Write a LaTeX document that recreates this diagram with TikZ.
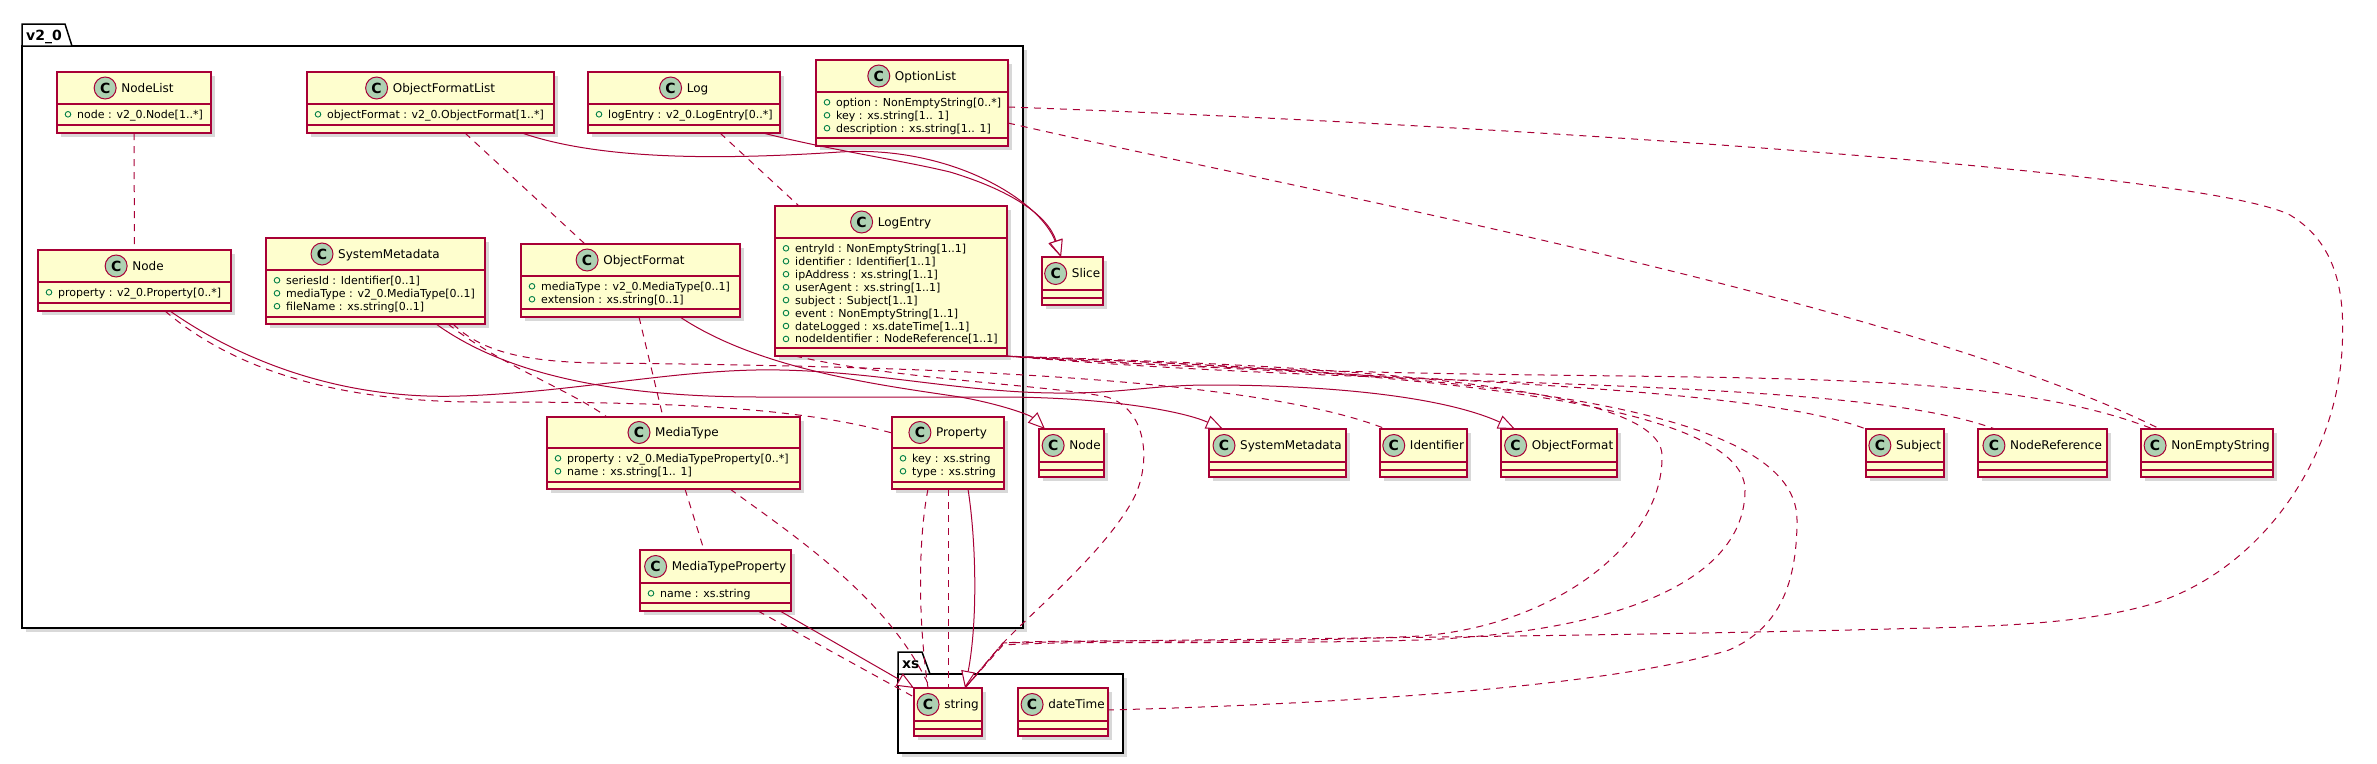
\documentclass[tikz,border=0pt]{standalone}
\usepackage{fontspec}
\setmainfont{DejaVu Sans}
\usetikzlibrary{arrows.meta,shadows}
\definecolor{pred}{HTML}{A80036}
\definecolor{cfill}{HTML}{FEFECE}
\definecolor{bgreen}{HTML}{ADD1B2}
\definecolor{vgreen}{HTML}{038048}
\tikzset{
  cbox/.style={draw=pred, fill=cfill, line width=1.5pt, inner sep=0pt, outer sep=0pt, rectangle,
    drop shadow={shadow xshift=4pt, shadow yshift=-4pt, fill=black!30, opacity=0.5}},
  cline/.style={draw=pred, line width=1.5pt},
  cname/.style={inner sep=0pt, font=\fontsize{12}{14}\selectfont, text height=8.8pt, text depth=0pt},
  badge/.style={circle, draw=pred, fill=bgreen, line width=1pt, minimum size=22pt, inner sep=0pt,
    font=\bfseries\fontsize{14}{14}\selectfont},
  attr/.style={inner sep=0pt, anchor=west, font=\fontsize{11}{13}\selectfont, text height=8pt, text depth=0pt},
  vis/.style={draw=vgreen, line width=0.9pt},
  dep/.style={draw=pred, line width=1pt, dash pattern=on 7pt off 6pt},
  ext/.style={draw=pred, line width=1pt, -{Triangle[fill=white, length=17pt, width=14pt]}},
  pkg/.style={draw=black, line width=1.5pt, fill=white},
  pkgname/.style={inner sep=0pt, anchor=base west, font=\bfseries\fontsize{14}{14}\selectfont},
}
% id, x1, y1, x2, y2, header bottom, methods top, name, attributes
\newcommand\umlclass[9]{%
  \node[cbox, minimum width={#4-#2}, minimum height={#5-#3}] (#1) at ({(#2+#4)/2},{(#3+#5)/2}) {};
  \draw[cline] (#2,#6) -- (#4,#6);
  \draw[cline] (#2,#7) -- (#4,#7);
  \node[cname] (#1-h) at ({(#2+#4)/2},{(#3+#6)/2}) {\hspace*{27pt}#8};
  \node[badge] (#1-b) at ([xshift=11pt]#1-h.west) {C};
  \foreach \a [count=\i from 0] in {#9} {
    \draw[vis] ({#2+11},{#6+10.3+12.95*\i}) circle (2.8pt);
    \node[attr] (#1-a\i) at ({#2+20},{#6+10.3+12.95*\i}) {\a};
  }%
}
% id, x1, y1, x2, name
\newcommand\umlsmall[5]{%
  \node[cbox, minimum width={#4-#2}, minimum height=48] (#1) at ({(#2+#4)/2},{#3+24}) {};
  \draw[cline] (#2,{#3+33}) -- (#4,{#3+33});
  \draw[cline] (#2,{#3+41}) -- (#4,{#3+41});
  \node[cname] (#1-h) at ({(#2+#4)/2},{#3+16.5}) {\hspace*{27pt}#5};
  \node[badge] (#1-b) at ([xshift=11pt]#1-h.west) {C};
}
\begin{document}
\begin{tikzpicture}[x=1pt, y=-1pt]
\useasboundingbox (0,0) rectangle (2377,763);
\fill[white] (0,0) rectangle (2377,763);

% packages
\fill[black!15] (26,50) rectangle (1027,632);
\draw[pkg] (22,46) rectangle (1023,628);
\draw[pkg] (22,46) -- (22,24) -- (65,24) -- (72,46) -- cycle;
\node[pkgname] (v2tab) at (26,40) {v2\_0};

\fill[black!15] (902,678) rectangle (1127,757);
\draw[pkg] (898,674) rectangle (1123,753);
\draw[pkg] (898,674) -- (898,652) -- (922,652) -- (930,674) -- cycle;
\node[pkgname] (xstab) at (902,668) {xs};

% classes in v2_0
\umlclass{nodelist}{57}{72}{211}{133}{104}{125}{NodeList}{node : v2\_0.Node[1..*]}
\umlclass{ofl}{307}{72}{554}{133}{104}{125}{ObjectFormatList}{objectFormat : v2\_0.ObjectFormat[1..*]}
\umlclass{log}{588}{72}{780}{133}{104}{125}{Log}{logEntry : v2\_0.LogEntry[0..*]}
\umlclass{optionlist}{816}{60}{1008}{146}{92}{138}{OptionList}{option : NonEmptyString[0..*], key : xs.string[1.. 1], description : xs.string[1.. 1]}
\umlclass{nodev}{38}{250}{231}{311}{282}{303}{Node}{property : v2\_0.Property[0..*]}
\umlclass{sysmeta}{266}{238}{485}{324}{270}{317}{SystemMetadata}{seriesId : Identifier[0..1], mediaType : v2\_0.MediaType[0..1], fileName : xs.string[0..1]}
\umlclass{of}{521}{244}{740}{317}{276}{309}{ObjectFormat}{mediaType : v2\_0.MediaType[0..1], extension : xs.string[0..1]}
\umlclass{logentry}{775}{206}{1007}{356}{238}{348}{LogEntry}{entryId : NonEmptyString[1..1], identifier : Identifier[1..1], ipAddress : xs.string[1..1], userAgent : xs.string[1..1], subject : Subject[1..1], event : NonEmptyString[1..1], dateLogged : xs.dateTime[1..1], nodeIdentifier : NodeReference[1..1]}
\umlclass{mediatype}{547}{417}{800}{489}{448}{482}{MediaType}{property : v2\_0.MediaTypeProperty[0..*], name : xs.string[1.. 1]}
\umlclass{property}{892}{417}{1004}{489}{448}{482}{Property}{key : xs.string, type : xs.string}
\umlclass{mtp}{640}{550}{791}{611}{583}{603}{MediaTypeProperty}{name : xs.string}

% outside classes
\umlsmall{slice}{1042}{257}{1103}{Slice}
\umlsmall{nodex}{1039}{429}{1104}{Node}
\umlsmall{sysmetax}{1209}{429}{1346}{SystemMetadata}
\umlsmall{identx}{1380}{429}{1467}{Identifier}
\umlsmall{ofx}{1501}{429}{1617}{ObjectFormat}
\umlsmall{subject}{1866}{429}{1944}{Subject}
\umlsmall{noderef}{1978}{429}{2107}{NodeReference}
\umlsmall{nes}{2141}{429}{2273}{NonEmptyString}
\umlsmall{string}{914}{688}{982}{string}
\umlsmall{datetime}{1018}{688}{1108}{dateTime}

% connectors
\draw[dep] (nodelist.south) -- (nodev.north);
\draw[dep] ([xshift=158pt]ofl.south west) -- ([xshift=64pt]of.north west);
\draw[ext] ([xshift=215pt]ofl.south west) .. controls (600,160) and (720,160) .. (840,152)
   .. controls (950,145) and (1040,200) .. ([xshift=19pt]slice.north west);
\draw[ext] ([xshift=175pt]log.south west) .. controls (830,150) and (900,160) .. (950,172)
   .. controls (1010,190) and (1048,215) .. ([xshift=19pt]slice.north west);
\draw[dep] ([xshift=132pt]log.south west) -- ([xshift=24pt]logentry.north west);

\draw[dep] ([yshift=-63pt]optionlist.north east) .. controls (1300,190) and (1900,300) .. ([xshift=19pt]nes.north west);
\draw[dep] ([yshift=-47pt]optionlist.north east) .. controls (1500,125) and (2200,170) .. (2290,215)
   .. controls (2340,245) and (2345,300) .. (2342,350)
   .. controls (2335,470) and (2250,580) .. (2141,607)
   .. controls (2060,628) and (1950,627) .. (1850,630)
   .. controls (1500,638) and (1100,640) .. (1003,643) -- ([xshift=51pt]string.north west);

\draw[ext] ([xshift=132pt]nodev.south west) .. controls (240,360) and (340,400) .. (460,396)
   .. controls (580,392) and (680,368) .. (780,370)
   .. controls (880,372) and (960,392) .. (1054,393)
   .. controls (1120,394) and (1150,385) .. (1210,385)
   .. controls (1320,385) and (1440,395) .. ([xshift=14pt]ofx.north west);
\draw[ext] ([xshift=170pt]sysmeta.south west) .. controls (500,370) and (600,397) .. (760,397)
   -- (1000,397) .. controls (1100,397) and (1180,410) .. ([xshift=14pt]sysmetax.north west);
\draw[ext] ([xshift=159pt]of.south west) .. controls (760,370) and (880,385) .. (960,397)
   .. controls (1000,404) and (1030,415) .. ([xshift=6pt]nodex.north west);
\draw[ext] ([xshift=76pt]property.south west) .. controls (976,540) and (978,620) .. ([xshift=51pt]string.north west);
\draw[ext] ([xshift=140pt]mtp.south west) -- (string.north west);

\draw[dep] ([xshift=127pt]nodev.south west) .. controls (240,375) and (350,402) .. (480,402)
   .. controls (650,402) and (790,405) .. ([yshift=-16pt]property.north west);
\draw[dep] ([xshift=182pt]sysmeta.south west) .. controls (500,365) and (570,390) .. ([xshift=60pt]mediatype.north west);
\draw[dep] ([xshift=118pt]of.south west) -- ([xshift=116pt]mediatype.north west);
\draw[dep] ([xshift=187pt]sysmeta.south west) .. controls (480,350) and (520,362) .. (600,363)
   .. controls (900,366) and (1250,375) .. ([xshift=6pt]identx.north west);

\draw[dep] ([xshift=-4pt]logentry.south east) .. controls (1400,380) and (1750,385) .. (subject.north west);
\draw[dep] (logentry.south east) .. controls (1400,390) and (1850,375) .. ([xshift=17pt]noderef.north west);
\draw[dep] ([xshift=-2pt]logentry.south east) .. controls (1600,395) and (1950,350) .. ([xshift=12pt]nes.north west);
\draw[dep] ([xshift=-6pt]logentry.south east) .. controls (1300,365) and (1660,380) .. (1662,455)
   .. controls (1664,540) and (1560,625) .. (1420,636)
   .. controls (1250,645) and (1080,638) .. (1003,643) -- ([xshift=51pt]string.north west);
\draw[dep] ([xshift=-8pt]logentry.south east) .. controls (1400,370) and (1745,400) .. (1745,490)
   .. controls (1745,580) and (1620,632) .. (1420,640)
   .. controls (1250,645) and (1080,640) .. (1003,645) -- ([xshift=51pt]string.north west);
\draw[dep] ([xshift=-10pt]logentry.south east) .. controls (1450,372) and (1797,400) .. (1797,520)
   .. controls (1797,590) and (1775,630) .. (1729,650)
   .. controls (1600,690) and (1300,705) .. ([yshift=-22pt]datetime.north east);
\draw[dep] ([xshift=20pt]logentry.south west) .. controls (900,380) and (1050,385) .. (1107,397)
   .. controls (1150,410) and (1152,470) .. (1130,505)
   .. controls (1100,555) and (1040,605) .. (1003,643) -- ([xshift=51pt]string.north west);

\draw[dep] ([xshift=138pt]mediatype.south west) -- ([xshift=64pt]mtp.north west);
\draw[dep] ([xshift=183pt]mediatype.south west) .. controls (800,540) and (890,600) .. ([xshift=16pt]string.north west);
\draw[dep] ([xshift=118pt]mtp.south west) -- ([yshift=-9pt]string.north west);
\draw[dep] ([xshift=36pt]property.south west) .. controls (918,540) and (918,620) .. ([xshift=14pt]string.north west);
\draw[dep] ([xshift=56pt]property.south west) -- ([xshift=34pt]string.north west);
\end{tikzpicture}
\end{document}
